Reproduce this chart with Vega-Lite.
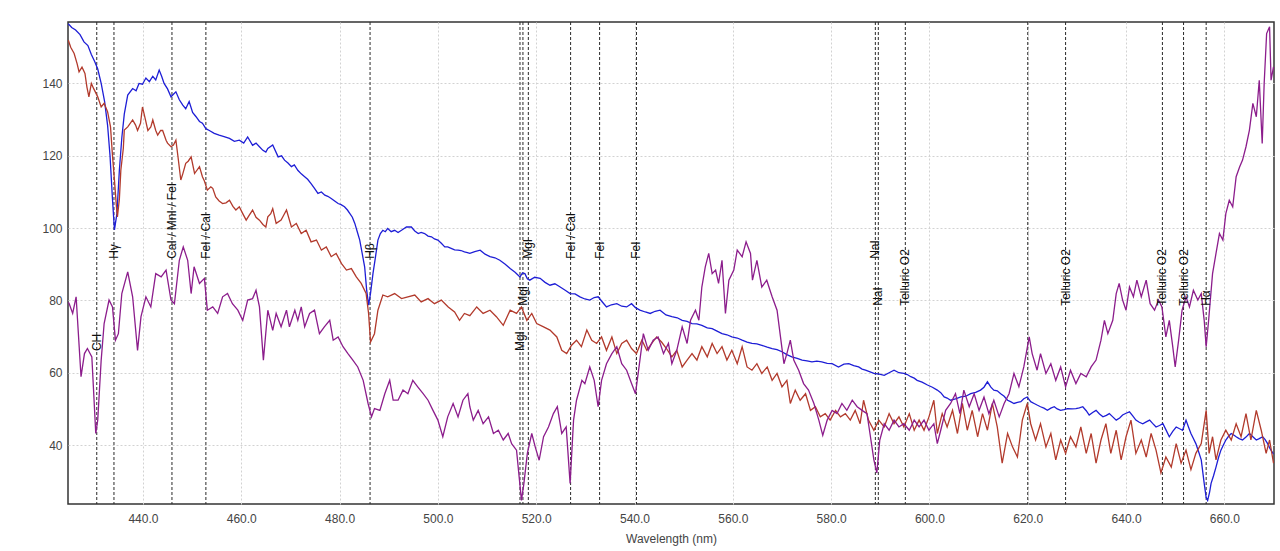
{
"$schema": "https://vega.github.io/schema/vega-lite/v6.json",
"width": 1206, "height": 482,
"autosize": {"type": "none"},
"padding": {"left": 68, "top": 22, "right": 6, "bottom": 47},
"background": "white",
"config": {"view": {"stroke": "#333333", "strokeWidth": 1.5}, "font": "Liberation Sans"},
"datasets": {
"lines": [
{"label": "CH", "nm": 430.6, "ly": 66},
{"label": "Hγ", "nm": 434.1, "ly": 91.5},
{"label": "CaI / MnI / FeI", "nm": 445.9, "ly": 91.5},
{"label": "FeI / CaI", "nm": 452.8, "ly": 91.5},
{"label": "Hβ", "nm": 486.2, "ly": 91.5},
{"label": "MgI", "nm": 516.7, "ly": 66},
{"label": "MgI", "nm": 517.3, "ly": 78.5},
{"label": "MgI", "nm": 518.4, "ly": 91.5},
{"label": "FeI / CaI", "nm": 527.0, "ly": 91.5},
{"label": "FeI", "nm": 532.9, "ly": 91.5},
{"label": "FeI", "nm": 540.4, "ly": 91.5},
{"label": "NaI", "nm": 589.0, "ly": 91.5},
{"label": "NaI", "nm": 589.6, "ly": 78.5},
{"label": "Telluric O2", "nm": 595.1, "ly": 78.5},
{"label": "", "nm": 620.0, "ly": 78.5},
{"label": "Telluric O2", "nm": 627.7, "ly": 78.5},
{"label": "Telluric O2", "nm": 647.4, "ly": 78.5},
{"label": "Telluric O2", "nm": 651.7, "ly": 78.5},
{"label": "Hα", "nm": 656.3, "ly": 78.5}
],
"spec": [
{"s":"B","nm":424.8,"f":156.5},{"s":"B","nm":425.5,"f":155.5},{"s":"B","nm":426.3,"f":154.8},{"s":"B","nm":427.2,"f":153.5},{"s":"B","nm":428.0,"f":151.5},{"s":"B","nm":428.8,"f":150.5},{"s":"B","nm":429.5,"f":148.0},{"s":"B","nm":430.2,"f":146.0},{"s":"B","nm":430.8,"f":144.0},{"s":"B","nm":431.5,"f":140.0},{"s":"B","nm":432.2,"f":135.0},{"s":"B","nm":432.8,"f":128.5},{"s":"B","nm":433.3,"f":120.0},{"s":"B","nm":433.8,"f":108.0},{"s":"B","nm":434.2,"f":99.5},{"s":"B","nm":434.7,"f":104.0},{"s":"B","nm":435.2,"f":116.0},{"s":"B","nm":435.7,"f":125.0},{"s":"B","nm":436.2,"f":131.5},{"s":"B","nm":436.9,"f":136.8},{"s":"B","nm":437.9,"f":138.6},{"s":"B","nm":438.6,"f":138.0},{"s":"B","nm":439.2,"f":140.0},{"s":"B","nm":439.9,"f":139.8},{"s":"B","nm":440.6,"f":141.5},{"s":"B","nm":441.3,"f":140.5},{"s":"B","nm":442.0,"f":142.0},{"s":"B","nm":442.6,"f":141.0},{"s":"B","nm":443.3,"f":143.7},{"s":"B","nm":443.8,"f":142.0},{"s":"B","nm":444.3,"f":140.0},{"s":"B","nm":445.0,"f":138.5},{"s":"B","nm":445.7,"f":136.3},{"s":"B","nm":446.2,"f":137.0},{"s":"B","nm":446.7,"f":137.7},{"s":"B","nm":447.4,"f":135.5},{"s":"B","nm":448.1,"f":134.0},{"s":"B","nm":448.7,"f":133.0},{"s":"B","nm":449.4,"f":135.0},{"s":"B","nm":450.1,"f":132.0},{"s":"B","nm":450.8,"f":130.8},{"s":"B","nm":451.5,"f":129.5},{"s":"B","nm":452.1,"f":129.0},{"s":"B","nm":452.8,"f":127.5},{"s":"B","nm":453.5,"f":127.0},{"s":"B","nm":454.5,"f":126.2},{"s":"B","nm":455.5,"f":125.7},{"s":"B","nm":456.5,"f":125.3},{"s":"B","nm":457.6,"f":124.8},{"s":"B","nm":458.6,"f":124.0},{"s":"B","nm":459.6,"f":124.3},{"s":"B","nm":460.5,"f":123.5},{"s":"B","nm":461.3,"f":125.2},{"s":"B","nm":462.3,"f":122.9},{"s":"B","nm":463.0,"f":123.5},{"s":"B","nm":463.7,"f":122.5},{"s":"B","nm":464.4,"f":121.5},{"s":"B","nm":465.0,"f":121.0},{"s":"B","nm":465.4,"f":122.0},{"s":"B","nm":466.4,"f":123.0},{"s":"B","nm":467.5,"f":119.7},{"s":"B","nm":468.2,"f":120.0},{"s":"B","nm":468.8,"f":118.8},{"s":"B","nm":469.5,"f":118.0},{"s":"B","nm":470.2,"f":117.0},{"s":"B","nm":470.8,"f":117.5},{"s":"B","nm":471.5,"f":116.0},{"s":"B","nm":472.2,"f":115.0},{"s":"B","nm":472.9,"f":114.2},{"s":"B","nm":473.5,"f":113.5},{"s":"B","nm":474.2,"f":112.3},{"s":"B","nm":474.9,"f":111.0},{"s":"B","nm":475.6,"f":109.6},{"s":"B","nm":476.3,"f":110.0},{"s":"B","nm":477.0,"f":109.1},{"s":"B","nm":477.6,"f":108.8},{"s":"B","nm":478.3,"f":108.2},{"s":"B","nm":479.0,"f":107.5},{"s":"B","nm":479.7,"f":106.8},{"s":"B","nm":480.3,"f":106.5},{"s":"B","nm":481.0,"f":105.9},{"s":"B","nm":481.6,"f":105.0},{"s":"B","nm":482.1,"f":104.0},{"s":"B","nm":482.6,"f":103.0},{"s":"B","nm":483.1,"f":101.3},{"s":"B","nm":483.6,"f":99.0},{"s":"B","nm":484.1,"f":96.7},{"s":"B","nm":484.6,"f":93.0},{"s":"B","nm":485.1,"f":89.3},{"s":"B","nm":485.5,"f":83.0},{"s":"B","nm":485.9,"f":78.7},{"s":"B","nm":486.3,"f":82.0},{"s":"B","nm":486.8,"f":87.5},{"s":"B","nm":487.3,"f":92.0},{"s":"B","nm":487.8,"f":96.7},{"s":"B","nm":488.3,"f":98.5},{"s":"B","nm":488.8,"f":99.4},{"s":"B","nm":489.3,"f":99.0},{"s":"B","nm":489.8,"f":99.9},{"s":"B","nm":490.5,"f":99.0},{"s":"B","nm":491.2,"f":99.4},{"s":"B","nm":491.9,"f":98.8},{"s":"B","nm":492.6,"f":99.4},{"s":"B","nm":493.6,"f":100.3},{"s":"B","nm":494.6,"f":100.3},{"s":"B","nm":495.3,"f":99.2},{"s":"B","nm":496.0,"f":98.5},{"s":"B","nm":496.6,"f":98.8},{"s":"B","nm":497.3,"f":98.5},{"s":"B","nm":498.0,"f":97.8},{"s":"B","nm":498.7,"f":97.6},{"s":"B","nm":499.3,"f":97.0},{"s":"B","nm":500.0,"f":96.7},{"s":"B","nm":500.7,"f":95.8},{"s":"B","nm":501.4,"f":94.8},{"s":"B","nm":502.0,"f":94.8},{"s":"B","nm":502.7,"f":94.4},{"s":"B","nm":503.4,"f":94.0},{"s":"B","nm":504.1,"f":93.9},{"s":"B","nm":504.7,"f":93.8},{"s":"B","nm":505.4,"f":93.4},{"s":"B","nm":506.0,"f":93.2},{"s":"B","nm":506.5,"f":93.0},{"s":"B","nm":507.5,"f":93.5},{"s":"B","nm":508.6,"f":93.9},{"s":"B","nm":509.6,"f":92.8},{"s":"B","nm":510.6,"f":92.1},{"s":"B","nm":511.6,"f":91.8},{"s":"B","nm":512.6,"f":91.1},{"s":"B","nm":513.7,"f":90.0},{"s":"B","nm":514.7,"f":88.8},{"s":"B","nm":515.7,"f":87.8},{"s":"B","nm":516.7,"f":86.5},{"s":"B","nm":517.2,"f":87.6},{"s":"B","nm":517.7,"f":87.4},{"s":"B","nm":518.2,"f":86.0},{"s":"B","nm":518.7,"f":85.6},{"s":"B","nm":519.7,"f":86.4},{"s":"B","nm":520.8,"f":86.1},{"s":"B","nm":521.8,"f":85.0},{"s":"B","nm":522.8,"f":84.2},{"s":"B","nm":523.8,"f":84.6},{"s":"B","nm":524.8,"f":83.8},{"s":"B","nm":525.9,"f":82.8},{"s":"B","nm":526.9,"f":81.9},{"s":"B","nm":527.9,"f":81.8},{"s":"B","nm":528.9,"f":81.0},{"s":"B","nm":529.9,"f":80.4},{"s":"B","nm":530.9,"f":80.1},{"s":"B","nm":531.8,"f":80.8},{"s":"B","nm":532.6,"f":81.0},{"s":"B","nm":533.5,"f":79.5},{"s":"B","nm":534.3,"f":78.2},{"s":"B","nm":535.3,"f":78.8},{"s":"B","nm":536.4,"f":79.1},{"s":"B","nm":537.4,"f":78.4},{"s":"B","nm":538.4,"f":78.2},{"s":"B","nm":539.4,"f":79.1},{"s":"B","nm":540.2,"f":78.0},{"s":"B","nm":541.1,"f":77.3},{"s":"B","nm":542.2,"f":76.8},{"s":"B","nm":543.2,"f":76.4},{"s":"B","nm":544.2,"f":77.0},{"s":"B","nm":545.2,"f":77.3},{"s":"B","nm":546.4,"f":76.0},{"s":"B","nm":547.6,"f":75.5},{"s":"B","nm":548.7,"f":75.2},{"s":"B","nm":549.7,"f":74.5},{"s":"B","nm":550.7,"f":74.2},{"s":"B","nm":551.7,"f":73.6},{"s":"B","nm":552.7,"f":73.5},{"s":"B","nm":553.7,"f":73.1},{"s":"B","nm":554.8,"f":72.4},{"s":"B","nm":555.8,"f":72.2},{"s":"B","nm":556.8,"f":71.5},{"s":"B","nm":557.8,"f":70.8},{"s":"B","nm":558.8,"f":70.5},{"s":"B","nm":559.8,"f":69.9},{"s":"B","nm":560.9,"f":69.6},{"s":"B","nm":561.9,"f":69.0},{"s":"B","nm":562.9,"f":68.5},{"s":"B","nm":563.9,"f":68.1},{"s":"B","nm":564.9,"f":68.0},{"s":"B","nm":565.9,"f":67.6},{"s":"B","nm":567.0,"f":67.1},{"s":"B","nm":568.0,"f":66.7},{"s":"B","nm":569.0,"f":66.4},{"s":"B","nm":570.0,"f":65.8},{"s":"B","nm":571.0,"f":65.0},{"s":"B","nm":572.0,"f":64.4},{"s":"B","nm":573.1,"f":64.0},{"s":"B","nm":574.1,"f":63.5},{"s":"B","nm":575.1,"f":63.3},{"s":"B","nm":576.1,"f":63.0},{"s":"B","nm":577.1,"f":63.2},{"s":"B","nm":578.1,"f":63.0},{"s":"B","nm":579.2,"f":62.6},{"s":"B","nm":580.2,"f":62.5},{"s":"B","nm":581.5,"f":61.6},{"s":"B","nm":582.6,"f":62.4},{"s":"B","nm":583.6,"f":62.5},{"s":"B","nm":584.6,"f":62.0},{"s":"B","nm":585.6,"f":61.6},{"s":"B","nm":586.3,"f":61.0},{"s":"B","nm":587.0,"f":60.7},{"s":"B","nm":587.8,"f":60.3},{"s":"B","nm":588.7,"f":59.8},{"s":"B","nm":589.8,"f":59.6},{"s":"B","nm":590.8,"f":59.3},{"s":"B","nm":591.8,"f":60.0},{"s":"B","nm":592.8,"f":60.7},{"s":"B","nm":593.8,"f":60.0},{"s":"B","nm":594.8,"f":59.8},{"s":"B","nm":595.5,"f":59.5},{"s":"B","nm":596.2,"f":58.9},{"s":"B","nm":596.9,"f":58.5},{"s":"B","nm":597.5,"f":57.9},{"s":"B","nm":598.5,"f":57.4},{"s":"B","nm":599.6,"f":56.6},{"s":"B","nm":600.6,"f":56.0},{"s":"B","nm":601.6,"f":55.2},{"s":"B","nm":602.3,"f":54.5},{"s":"B","nm":603.0,"f":53.3},{"s":"B","nm":603.6,"f":53.0},{"s":"B","nm":604.3,"f":52.4},{"s":"B","nm":605.3,"f":52.8},{"s":"B","nm":606.4,"f":53.3},{"s":"B","nm":607.4,"f":53.5},{"s":"B","nm":608.4,"f":54.2},{"s":"B","nm":609.4,"f":54.6},{"s":"B","nm":610.4,"f":55.2},{"s":"B","nm":611.1,"f":56.0},{"s":"B","nm":611.8,"f":57.5},{"s":"B","nm":612.5,"f":56.0},{"s":"B","nm":613.1,"f":55.2},{"s":"B","nm":613.8,"f":55.0},{"s":"B","nm":614.5,"f":54.2},{"s":"B","nm":615.2,"f":53.5},{"s":"B","nm":615.9,"f":52.4},{"s":"B","nm":616.5,"f":52.0},{"s":"B","nm":617.2,"f":51.5},{"s":"B","nm":617.9,"f":51.8},{"s":"B","nm":618.6,"f":52.0},{"s":"B","nm":619.2,"f":52.8},{"s":"B","nm":619.9,"f":53.3},{"s":"B","nm":620.6,"f":52.0},{"s":"B","nm":621.3,"f":51.5},{"s":"B","nm":622.0,"f":51.0},{"s":"B","nm":622.6,"f":50.6},{"s":"B","nm":623.3,"f":50.2},{"s":"B","nm":624.0,"f":49.6},{"s":"B","nm":624.7,"f":50.2},{"s":"B","nm":625.4,"f":50.6},{"s":"B","nm":626.0,"f":50.0},{"s":"B","nm":626.7,"f":49.6},{"s":"B","nm":627.4,"f":49.8},{"s":"B","nm":628.1,"f":50.1},{"s":"B","nm":629.0,"f":50.0},{"s":"B","nm":629.8,"f":50.1},{"s":"B","nm":630.5,"f":50.3},{"s":"B","nm":631.2,"f":50.6},{"s":"B","nm":631.9,"f":49.5},{"s":"B","nm":632.5,"f":48.3},{"s":"B","nm":633.2,"f":49.0},{"s":"B","nm":633.9,"f":49.6},{"s":"B","nm":634.6,"f":48.6},{"s":"B","nm":635.3,"f":47.8},{"s":"B","nm":636.0,"f":48.2},{"s":"B","nm":636.6,"f":48.7},{"s":"B","nm":637.3,"f":47.8},{"s":"B","nm":638.0,"f":46.9},{"s":"B","nm":638.7,"f":47.5},{"s":"B","nm":639.3,"f":48.3},{"s":"B","nm":640.0,"f":48.8},{"s":"B","nm":640.7,"f":49.2},{"s":"B","nm":641.4,"f":48.0},{"s":"B","nm":642.0,"f":46.9},{"s":"B","nm":642.7,"f":46.3},{"s":"B","nm":643.4,"f":45.9},{"s":"B","nm":644.1,"f":46.4},{"s":"B","nm":644.8,"f":46.9},{"s":"B","nm":645.4,"f":46.0},{"s":"B","nm":646.1,"f":45.0},{"s":"B","nm":646.8,"f":45.4},{"s":"B","nm":647.5,"f":45.9},{"s":"B","nm":648.2,"f":44.0},{"s":"B","nm":648.8,"f":42.3},{"s":"B","nm":649.5,"f":43.8},{"s":"B","nm":650.2,"f":45.0},{"s":"B","nm":650.9,"f":44.5},{"s":"B","nm":651.5,"f":44.1},{"s":"B","nm":652.2,"f":46.9},{"s":"B","nm":652.7,"f":45.0},{"s":"B","nm":653.2,"f":43.2},{"s":"B","nm":653.7,"f":41.8},{"s":"B","nm":654.2,"f":40.4},{"s":"B","nm":654.8,"f":38.0},{"s":"B","nm":655.3,"f":35.9},{"s":"B","nm":655.9,"f":29.4},{"s":"B","nm":656.3,"f":25.5},{"s":"B","nm":656.6,"f":24.7},{"s":"B","nm":657.0,"f":27.0},{"s":"B","nm":657.3,"f":29.4},{"s":"B","nm":657.8,"f":31.5},{"s":"B","nm":658.3,"f":33.9},{"s":"B","nm":658.8,"f":36.5},{"s":"B","nm":659.3,"f":38.6},{"s":"B","nm":659.8,"f":40.0},{"s":"B","nm":660.3,"f":41.4},{"s":"B","nm":660.9,"f":42.5},{"s":"B","nm":661.4,"f":43.2},{"s":"B","nm":661.9,"f":42.8},{"s":"B","nm":662.4,"f":42.3},{"s":"B","nm":663.0,"f":41.8},{"s":"B","nm":663.7,"f":41.4},{"s":"B","nm":664.4,"f":42.2},{"s":"B","nm":665.1,"f":43.2},{"s":"B","nm":665.8,"f":42.3},{"s":"B","nm":666.5,"f":41.4},{"s":"B","nm":667.1,"f":41.8},{"s":"B","nm":667.8,"f":42.3},{"s":"B","nm":668.3,"f":41.5},{"s":"B","nm":668.8,"f":40.4},{"s":"B","nm":669.3,"f":39.0},{"s":"B","nm":670.0,"f":37.5},
{"s":"R","nm":424.8,"f":152.0},{"s":"R","nm":425.3,"f":150.0},{"s":"R","nm":426.0,"f":148.3},{"s":"R","nm":426.6,"f":145.5},{"s":"R","nm":427.0,"f":143.2},{"s":"R","nm":427.6,"f":144.5},{"s":"R","nm":428.2,"f":142.8},{"s":"R","nm":428.6,"f":139.0},{"s":"R","nm":429.0,"f":136.3},{"s":"R","nm":429.5,"f":140.0},{"s":"R","nm":430.0,"f":138.5},{"s":"R","nm":430.8,"f":136.3},{"s":"R","nm":431.5,"f":133.5},{"s":"R","nm":432.1,"f":134.5},{"s":"R","nm":432.8,"f":132.2},{"s":"R","nm":433.4,"f":128.0},{"s":"R","nm":433.8,"f":120.0},{"s":"R","nm":434.2,"f":113.3},{"s":"R","nm":434.6,"f":106.0},{"s":"R","nm":434.8,"f":103.1},{"s":"R","nm":435.2,"f":108.0},{"s":"R","nm":435.5,"f":116.0},{"s":"R","nm":436.0,"f":122.0},{"s":"R","nm":436.2,"f":127.1},{"s":"R","nm":436.9,"f":128.0},{"s":"R","nm":437.9,"f":129.9},{"s":"R","nm":438.5,"f":128.5},{"s":"R","nm":438.9,"f":127.0},{"s":"R","nm":439.5,"f":129.0},{"s":"R","nm":439.9,"f":133.5},{"s":"R","nm":440.5,"f":130.0},{"s":"R","nm":441.0,"f":127.0},{"s":"R","nm":441.6,"f":128.0},{"s":"R","nm":442.0,"f":129.9},{"s":"R","nm":442.6,"f":127.0},{"s":"R","nm":443.0,"f":125.7},{"s":"R","nm":443.6,"f":127.0},{"s":"R","nm":444.0,"f":127.0},{"s":"R","nm":444.7,"f":124.3},{"s":"R","nm":445.0,"f":123.5},{"s":"R","nm":445.7,"f":122.5},{"s":"R","nm":446.2,"f":123.0},{"s":"R","nm":446.7,"f":124.3},{"s":"R","nm":447.1,"f":120.0},{"s":"R","nm":447.7,"f":113.3},{"s":"R","nm":448.1,"f":115.0},{"s":"R","nm":448.7,"f":117.9},{"s":"R","nm":449.2,"f":118.5},{"s":"R","nm":449.8,"f":119.7},{"s":"R","nm":450.5,"f":115.1},{"s":"R","nm":451.5,"f":117.0},{"s":"R","nm":452.1,"f":114.2},{"s":"R","nm":452.5,"f":113.0},{"s":"R","nm":453.1,"f":110.5},{"s":"R","nm":453.8,"f":111.4},{"s":"R","nm":454.2,"f":111.0},{"s":"R","nm":454.8,"f":108.6},{"s":"R","nm":455.5,"f":107.5},{"s":"R","nm":456.2,"f":106.8},{"s":"R","nm":456.9,"f":107.0},{"s":"R","nm":457.6,"f":107.7},{"s":"R","nm":458.3,"f":106.0},{"s":"R","nm":458.9,"f":105.0},{"s":"R","nm":459.6,"f":105.9},{"s":"R","nm":460.3,"f":104.0},{"s":"R","nm":461.0,"f":102.2},{"s":"R","nm":461.6,"f":103.5},{"s":"R","nm":462.3,"f":105.0},{"s":"R","nm":463.0,"f":103.0},{"s":"R","nm":463.7,"f":102.2},{"s":"R","nm":464.4,"f":101.0},{"s":"R","nm":465.0,"f":100.3},{"s":"R","nm":465.4,"f":103.1},{"s":"R","nm":466.0,"f":104.0},{"s":"R","nm":466.4,"f":105.4},{"s":"R","nm":467.1,"f":101.3},{"s":"R","nm":468.1,"f":102.2},{"s":"R","nm":468.6,"f":103.5},{"s":"R","nm":469.2,"f":105.0},{"s":"R","nm":470.2,"f":100.3},{"s":"R","nm":471.2,"f":101.3},{"s":"R","nm":472.2,"f":98.5},{"s":"R","nm":473.2,"f":99.4},{"s":"R","nm":474.2,"f":96.2},{"s":"R","nm":475.3,"f":96.7},{"s":"R","nm":476.3,"f":93.9},{"s":"R","nm":477.3,"f":94.8},{"s":"R","nm":478.3,"f":92.1},{"s":"R","nm":479.3,"f":93.0},{"s":"R","nm":480.4,"f":90.2},{"s":"R","nm":481.4,"f":88.4},{"s":"R","nm":482.4,"f":88.8},{"s":"R","nm":483.4,"f":86.5},{"s":"R","nm":484.4,"f":84.7},{"s":"R","nm":485.4,"f":81.9},{"s":"R","nm":485.9,"f":76.4},{"s":"R","nm":486.3,"f":68.5},{"s":"R","nm":487.1,"f":70.8},{"s":"R","nm":487.8,"f":77.3},{"s":"R","nm":488.8,"f":81.5},{"s":"R","nm":489.8,"f":81.0},{"s":"R","nm":491.2,"f":81.9},{"s":"R","nm":492.6,"f":80.5},{"s":"R","nm":493.9,"f":81.0},{"s":"R","nm":495.3,"f":81.5},{"s":"R","nm":496.6,"f":79.6},{"s":"R","nm":498.0,"f":80.5},{"s":"R","nm":499.3,"f":79.1},{"s":"R","nm":500.7,"f":80.1},{"s":"R","nm":502.1,"f":78.2},{"s":"R","nm":503.4,"f":76.8},{"s":"R","nm":504.4,"f":74.5},{"s":"R","nm":505.4,"f":76.4},{"s":"R","nm":506.5,"f":75.8},{"s":"R","nm":507.9,"f":78.2},{"s":"R","nm":509.2,"f":76.4},{"s":"R","nm":510.6,"f":77.3},{"s":"R","nm":511.9,"f":75.5},{"s":"R","nm":513.3,"f":73.1},{"s":"R","nm":514.7,"f":77.3},{"s":"R","nm":516.0,"f":76.4},{"s":"R","nm":517.0,"f":78.2},{"s":"R","nm":518.1,"f":74.5},{"s":"R","nm":519.1,"f":76.4},{"s":"R","nm":520.1,"f":73.6},{"s":"R","nm":521.5,"f":72.7},{"s":"R","nm":522.8,"f":71.8},{"s":"R","nm":524.2,"f":69.9},{"s":"R","nm":525.2,"f":66.2},{"s":"R","nm":526.2,"f":65.3},{"s":"R","nm":527.2,"f":67.6},{"s":"R","nm":528.2,"f":69.0},{"s":"R","nm":529.2,"f":67.2},{"s":"R","nm":530.3,"f":71.8},{"s":"R","nm":531.3,"f":69.0},{"s":"R","nm":532.3,"f":68.1},{"s":"R","nm":533.3,"f":69.9},{"s":"R","nm":534.3,"f":66.2},{"s":"R","nm":535.4,"f":69.9},{"s":"R","nm":536.4,"f":65.3},{"s":"R","nm":537.4,"f":68.1},{"s":"R","nm":538.4,"f":69.0},{"s":"R","nm":539.4,"f":66.7},{"s":"R","nm":540.4,"f":65.3},{"s":"R","nm":541.5,"f":69.0},{"s":"R","nm":542.5,"f":66.2},{"s":"R","nm":543.5,"f":68.1},{"s":"R","nm":544.5,"f":69.9},{"s":"R","nm":545.5,"f":68.5},{"s":"R","nm":546.5,"f":66.7},{"s":"R","nm":547.6,"f":64.4},{"s":"R","nm":548.6,"f":66.2},{"s":"R","nm":549.7,"f":61.6},{"s":"R","nm":550.7,"f":63.5},{"s":"R","nm":551.7,"f":65.3},{"s":"R","nm":552.7,"f":63.5},{"s":"R","nm":553.7,"f":67.2},{"s":"R","nm":554.8,"f":64.4},{"s":"R","nm":555.8,"f":68.1},{"s":"R","nm":556.8,"f":65.3},{"s":"R","nm":557.8,"f":67.2},{"s":"R","nm":558.8,"f":63.5},{"s":"R","nm":559.8,"f":66.2},{"s":"R","nm":560.9,"f":62.5},{"s":"R","nm":561.9,"f":67.2},{"s":"R","nm":562.9,"f":61.6},{"s":"R","nm":563.9,"f":60.7},{"s":"R","nm":564.9,"f":62.5},{"s":"R","nm":565.9,"f":59.8},{"s":"R","nm":567.0,"f":61.6},{"s":"R","nm":568.0,"f":57.9},{"s":"R","nm":569.0,"f":59.8},{"s":"R","nm":570.0,"f":56.1},{"s":"R","nm":571.0,"f":57.9},{"s":"R","nm":571.7,"f":51.5},{"s":"R","nm":572.7,"f":55.2},{"s":"R","nm":573.7,"f":52.4},{"s":"R","nm":574.8,"f":54.2},{"s":"R","nm":575.8,"f":49.6},{"s":"R","nm":576.8,"f":50.6},{"s":"R","nm":577.8,"f":47.8},{"s":"R","nm":578.8,"f":48.7},{"s":"R","nm":579.8,"f":46.9},{"s":"R","nm":580.9,"f":49.6},{"s":"R","nm":581.9,"f":47.8},{"s":"R","nm":582.9,"f":48.7},{"s":"R","nm":583.9,"f":46.9},{"s":"R","nm":584.9,"f":49.6},{"s":"R","nm":585.9,"f":45.9},{"s":"R","nm":586.6,"f":52.4},{"s":"R","nm":587.6,"f":46.9},{"s":"R","nm":588.7,"f":44.1},{"s":"R","nm":589.7,"f":46.9},{"s":"R","nm":590.8,"f":45.0},{"s":"R","nm":591.8,"f":48.7},{"s":"R","nm":592.8,"f":45.9},{"s":"R","nm":593.8,"f":47.8},{"s":"R","nm":594.8,"f":45.0},{"s":"R","nm":595.9,"f":48.7},{"s":"R","nm":596.9,"f":44.1},{"s":"R","nm":597.9,"f":46.9},{"s":"R","nm":598.9,"f":44.1},{"s":"R","nm":599.9,"f":47.8},{"s":"R","nm":600.9,"f":52.4},{"s":"R","nm":601.6,"f":43.2},{"s":"R","nm":602.6,"f":48.7},{"s":"R","nm":603.6,"f":45.0},{"s":"R","nm":604.7,"f":49.6},{"s":"R","nm":605.7,"f":43.2},{"s":"R","nm":606.7,"f":51.5},{"s":"R","nm":607.7,"f":44.1},{"s":"R","nm":608.7,"f":49.6},{"s":"R","nm":609.8,"f":42.3},{"s":"R","nm":610.8,"f":48.7},{"s":"R","nm":611.8,"f":44.1},{"s":"R","nm":612.8,"f":51.5},{"s":"R","nm":613.8,"f":45.0},{"s":"R","nm":614.8,"f":35.0},{"s":"R","nm":615.9,"f":43.2},{"s":"R","nm":616.9,"f":39.5},{"s":"R","nm":617.9,"f":36.7},{"s":"R","nm":618.9,"f":46.9},{"s":"R","nm":619.9,"f":51.5},{"s":"R","nm":620.6,"f":45.9},{"s":"R","nm":621.6,"f":41.4},{"s":"R","nm":622.6,"f":45.9},{"s":"R","nm":623.7,"f":39.5},{"s":"R","nm":624.7,"f":43.2},{"s":"R","nm":625.7,"f":35.9},{"s":"R","nm":626.7,"f":41.4},{"s":"R","nm":627.7,"f":37.7},{"s":"R","nm":628.7,"f":42.3},{"s":"R","nm":629.8,"f":39.5},{"s":"R","nm":630.8,"f":45.0},{"s":"R","nm":631.9,"f":37.7},{"s":"R","nm":632.9,"f":43.2},{"s":"R","nm":633.9,"f":35.0},{"s":"R","nm":634.9,"f":41.4},{"s":"R","nm":635.9,"f":45.9},{"s":"R","nm":636.9,"f":37.7},{"s":"R","nm":638.0,"f":44.1},{"s":"R","nm":639.0,"f":35.9},{"s":"R","nm":640.0,"f":42.3},{"s":"R","nm":641.0,"f":46.9},{"s":"R","nm":642.0,"f":37.7},{"s":"R","nm":643.1,"f":41.4},{"s":"R","nm":644.1,"f":36.7},{"s":"R","nm":645.1,"f":43.2},{"s":"R","nm":646.1,"f":38.6},{"s":"R","nm":647.1,"f":32.3},{"s":"R","nm":648.1,"f":36.7},{"s":"R","nm":649.2,"f":33.9},{"s":"R","nm":650.2,"f":40.4},{"s":"R","nm":651.2,"f":35.0},{"s":"R","nm":652.2,"f":38.6},{"s":"R","nm":653.2,"f":33.2},{"s":"R","nm":654.2,"f":37.7},{"s":"R","nm":655.3,"f":40.4},{"s":"R","nm":656.3,"f":49.6},{"s":"R","nm":656.9,"f":37.7},{"s":"R","nm":657.6,"f":42.3},{"s":"R","nm":658.3,"f":35.9},{"s":"R","nm":659.3,"f":41.4},{"s":"R","nm":660.3,"f":44.1},{"s":"R","nm":661.4,"f":41.4},{"s":"R","nm":662.4,"f":45.9},{"s":"R","nm":663.4,"f":42.3},{"s":"R","nm":664.4,"f":48.7},{"s":"R","nm":665.4,"f":41.4},{"s":"R","nm":666.5,"f":49.6},{"s":"R","nm":667.5,"f":44.1},{"s":"R","nm":668.5,"f":37.7},{"s":"R","nm":669.2,"f":41.4},{"s":"R","nm":670.0,"f":35.0},
{"s":"P","nm":424.8,"f":79.5},{"s":"P","nm":425.0,"f":79.1},{"s":"P","nm":425.7,"f":76.4},{"s":"P","nm":426.4,"f":81.0},{"s":"P","nm":427.4,"f":58.9},{"s":"P","nm":428.1,"f":65.3},{"s":"P","nm":428.7,"f":66.7},{"s":"P","nm":429.6,"f":64.4},{"s":"P","nm":430.4,"f":43.2},{"s":"P","nm":430.8,"f":46.9},{"s":"P","nm":431.5,"f":63.5},{"s":"P","nm":432.1,"f":73.6},{"s":"P","nm":433.1,"f":80.1},{"s":"P","nm":433.8,"f":78.2},{"s":"P","nm":434.4,"f":69.0},{"s":"P","nm":435.0,"f":70.8},{"s":"P","nm":435.7,"f":81.9},{"s":"P","nm":436.9,"f":87.9},{"s":"P","nm":437.9,"f":81.0},{"s":"P","nm":438.9,"f":66.2},{"s":"P","nm":439.6,"f":75.5},{"s":"P","nm":440.6,"f":81.0},{"s":"P","nm":441.6,"f":78.2},{"s":"P","nm":442.6,"f":87.4},{"s":"P","nm":443.7,"f":86.5},{"s":"P","nm":444.7,"f":88.4},{"s":"P","nm":445.7,"f":80.1},{"s":"P","nm":446.4,"f":79.1},{"s":"P","nm":447.4,"f":91.1},{"s":"P","nm":448.2,"f":94.8},{"s":"P","nm":449.1,"f":91.1},{"s":"P","nm":449.8,"f":81.9},{"s":"P","nm":450.4,"f":89.3},{"s":"P","nm":451.5,"f":84.7},{"s":"P","nm":452.5,"f":86.1},{"s":"P","nm":453.1,"f":77.3},{"s":"P","nm":454.2,"f":78.2},{"s":"P","nm":455.2,"f":76.4},{"s":"P","nm":456.2,"f":81.0},{"s":"P","nm":457.2,"f":81.9},{"s":"P","nm":458.2,"f":79.1},{"s":"P","nm":459.3,"f":77.3},{"s":"P","nm":460.3,"f":74.5},{"s":"P","nm":461.3,"f":80.1},{"s":"P","nm":462.3,"f":80.5},{"s":"P","nm":463.0,"f":82.8},{"s":"P","nm":463.7,"f":78.2},{"s":"P","nm":464.5,"f":63.5},{"s":"P","nm":465.4,"f":77.3},{"s":"P","nm":466.4,"f":71.7},{"s":"P","nm":467.1,"f":76.4},{"s":"P","nm":468.1,"f":72.7},{"s":"P","nm":469.2,"f":77.3},{"s":"P","nm":469.8,"f":72.7},{"s":"P","nm":470.9,"f":77.3},{"s":"P","nm":471.5,"f":74.5},{"s":"P","nm":472.2,"f":78.2},{"s":"P","nm":472.9,"f":72.7},{"s":"P","nm":473.9,"f":76.4},{"s":"P","nm":474.9,"f":77.3},{"s":"P","nm":475.9,"f":70.8},{"s":"P","nm":476.9,"f":72.7},{"s":"P","nm":478.0,"f":74.5},{"s":"P","nm":478.7,"f":69.0},{"s":"P","nm":479.7,"f":69.9},{"s":"P","nm":480.7,"f":67.2},{"s":"P","nm":481.7,"f":65.3},{"s":"P","nm":482.7,"f":63.5},{"s":"P","nm":483.7,"f":61.6},{"s":"P","nm":484.8,"f":57.9},{"s":"P","nm":485.8,"f":51.5},{"s":"P","nm":486.5,"f":47.8},{"s":"P","nm":487.1,"f":50.1},{"s":"P","nm":488.2,"f":49.6},{"s":"P","nm":489.2,"f":54.2},{"s":"P","nm":490.2,"f":57.9},{"s":"P","nm":490.9,"f":52.4},{"s":"P","nm":491.9,"f":52.4},{"s":"P","nm":492.9,"f":55.2},{"s":"P","nm":493.9,"f":54.2},{"s":"P","nm":494.9,"f":57.9},{"s":"P","nm":495.9,"f":56.1},{"s":"P","nm":497.0,"f":54.2},{"s":"P","nm":498.0,"f":52.4},{"s":"P","nm":499.0,"f":49.6},{"s":"P","nm":500.0,"f":46.9},{"s":"P","nm":501.0,"f":42.3},{"s":"P","nm":502.0,"f":47.8},{"s":"P","nm":503.1,"f":51.5},{"s":"P","nm":504.1,"f":47.8},{"s":"P","nm":505.1,"f":52.4},{"s":"P","nm":506.1,"f":54.2},{"s":"P","nm":506.5,"f":50.6},{"s":"P","nm":507.2,"f":46.9},{"s":"P","nm":508.2,"f":49.6},{"s":"P","nm":509.2,"f":45.9},{"s":"P","nm":510.3,"f":47.8},{"s":"P","nm":511.3,"f":43.2},{"s":"P","nm":512.3,"f":44.1},{"s":"P","nm":513.3,"f":41.4},{"s":"P","nm":514.3,"f":43.2},{"s":"P","nm":515.0,"f":40.4},{"s":"P","nm":516.0,"f":38.6},{"s":"P","nm":516.6,"f":30.3},{"s":"P","nm":517.0,"f":24.7},{"s":"P","nm":517.5,"f":29.4},{"s":"P","nm":518.2,"f":37.7},{"s":"P","nm":519.1,"f":43.2},{"s":"P","nm":519.8,"f":39.5},{"s":"P","nm":520.6,"f":35.8},{"s":"P","nm":521.5,"f":42.3},{"s":"P","nm":522.5,"f":45.0},{"s":"P","nm":523.5,"f":48.7},{"s":"P","nm":524.3,"f":50.6},{"s":"P","nm":525.2,"f":43.2},{"s":"P","nm":526.1,"f":45.0},{"s":"P","nm":526.9,"f":29.4},{"s":"P","nm":527.6,"f":46.9},{"s":"P","nm":528.2,"f":52.4},{"s":"P","nm":529.3,"f":57.9},{"s":"P","nm":529.9,"f":57.0},{"s":"P","nm":530.9,"f":61.6},{"s":"P","nm":531.8,"f":57.9},{"s":"P","nm":532.6,"f":50.6},{"s":"P","nm":533.3,"f":57.9},{"s":"P","nm":534.3,"f":62.5},{"s":"P","nm":535.4,"f":65.3},{"s":"P","nm":536.4,"f":67.2},{"s":"P","nm":537.4,"f":62.5},{"s":"P","nm":538.4,"f":60.7},{"s":"P","nm":539.4,"f":57.0},{"s":"P","nm":540.2,"f":54.2},{"s":"P","nm":541.1,"f":63.5},{"s":"P","nm":541.8,"f":70.8},{"s":"P","nm":542.8,"f":66.2},{"s":"P","nm":543.8,"f":69.0},{"s":"P","nm":544.8,"f":69.9},{"s":"P","nm":545.9,"f":65.3},{"s":"P","nm":546.9,"f":68.1},{"s":"P","nm":547.6,"f":62.5},{"s":"P","nm":548.6,"f":66.2},{"s":"P","nm":549.7,"f":72.7},{"s":"P","nm":550.7,"f":68.1},{"s":"P","nm":551.4,"f":74.5},{"s":"P","nm":552.4,"f":77.3},{"s":"P","nm":553.1,"f":74.5},{"s":"P","nm":553.7,"f":83.7},{"s":"P","nm":554.4,"f":89.3},{"s":"P","nm":555.1,"f":93.0},{"s":"P","nm":555.8,"f":87.4},{"s":"P","nm":556.5,"f":88.4},{"s":"P","nm":557.1,"f":84.7},{"s":"P","nm":557.8,"f":91.1},{"s":"P","nm":558.5,"f":76.4},{"s":"P","nm":559.2,"f":85.6},{"s":"P","nm":560.2,"f":88.4},{"s":"P","nm":560.9,"f":93.9},{"s":"P","nm":561.9,"f":92.1},{"s":"P","nm":562.7,"f":96.2},{"s":"P","nm":563.6,"f":93.0},{"s":"P","nm":564.0,"f":85.6},{"s":"P","nm":564.9,"f":91.1},{"s":"P","nm":565.9,"f":83.7},{"s":"P","nm":566.9,"f":85.6},{"s":"P","nm":568.0,"f":81.0},{"s":"P","nm":569.0,"f":77.3},{"s":"P","nm":569.7,"f":69.9},{"s":"P","nm":570.4,"f":62.5},{"s":"P","nm":571.0,"f":65.3},{"s":"P","nm":571.7,"f":69.0},{"s":"P","nm":572.4,"f":63.5},{"s":"P","nm":573.4,"f":60.7},{"s":"P","nm":574.4,"f":57.0},{"s":"P","nm":575.4,"f":55.2},{"s":"P","nm":576.5,"f":51.5},{"s":"P","nm":577.5,"f":46.9},{"s":"P","nm":578.3,"f":42.7},{"s":"P","nm":579.2,"f":46.9},{"s":"P","nm":580.2,"f":49.6},{"s":"P","nm":581.2,"f":48.7},{"s":"P","nm":582.2,"f":51.5},{"s":"P","nm":583.2,"f":49.6},{"s":"P","nm":584.3,"f":52.4},{"s":"P","nm":585.3,"f":50.6},{"s":"P","nm":586.3,"f":49.6},{"s":"P","nm":587.3,"f":48.7},{"s":"P","nm":588.0,"f":42.3},{"s":"P","nm":588.7,"f":35.9},{"s":"P","nm":589.3,"f":32.3},{"s":"P","nm":589.9,"f":41.4},{"s":"P","nm":590.8,"f":45.9},{"s":"P","nm":591.8,"f":44.1},{"s":"P","nm":592.8,"f":46.9},{"s":"P","nm":593.8,"f":45.0},{"s":"P","nm":594.8,"f":45.9},{"s":"P","nm":595.9,"f":44.1},{"s":"P","nm":596.9,"f":46.9},{"s":"P","nm":597.9,"f":45.0},{"s":"P","nm":598.9,"f":46.9},{"s":"P","nm":599.9,"f":44.1},{"s":"P","nm":600.9,"f":45.9},{"s":"P","nm":601.6,"f":40.4},{"s":"P","nm":602.3,"f":44.1},{"s":"P","nm":603.3,"f":49.6},{"s":"P","nm":604.3,"f":51.5},{"s":"P","nm":605.3,"f":54.2},{"s":"P","nm":606.2,"f":48.7},{"s":"P","nm":607.0,"f":55.2},{"s":"P","nm":608.1,"f":50.6},{"s":"P","nm":609.1,"f":54.2},{"s":"P","nm":610.1,"f":49.6},{"s":"P","nm":611.1,"f":53.3},{"s":"P","nm":612.1,"f":48.7},{"s":"P","nm":613.1,"f":52.4},{"s":"P","nm":614.2,"f":47.8},{"s":"P","nm":615.2,"f":51.5},{"s":"P","nm":616.2,"f":54.2},{"s":"P","nm":617.2,"f":59.8},{"s":"P","nm":618.2,"f":56.1},{"s":"P","nm":619.2,"f":61.6},{"s":"P","nm":620.3,"f":69.9},{"s":"P","nm":620.9,"f":65.3},{"s":"P","nm":621.9,"f":60.7},{"s":"P","nm":622.6,"f":65.3},{"s":"P","nm":623.7,"f":59.8},{"s":"P","nm":624.7,"f":62.5},{"s":"P","nm":625.7,"f":57.9},{"s":"P","nm":626.7,"f":61.6},{"s":"P","nm":627.7,"f":56.1},{"s":"P","nm":628.7,"f":60.7},{"s":"P","nm":629.8,"f":57.0},{"s":"P","nm":630.8,"f":59.8},{"s":"P","nm":631.9,"f":58.9},{"s":"P","nm":632.9,"f":61.6},{"s":"P","nm":633.9,"f":63.5},{"s":"P","nm":634.9,"f":69.0},{"s":"P","nm":635.6,"f":74.5},{"s":"P","nm":636.3,"f":70.8},{"s":"P","nm":637.3,"f":74.5},{"s":"P","nm":638.0,"f":81.9},{"s":"P","nm":638.6,"f":84.7},{"s":"P","nm":639.3,"f":80.1},{"s":"P","nm":640.0,"f":77.3},{"s":"P","nm":640.7,"f":83.7},{"s":"P","nm":641.5,"f":81.0},{"s":"P","nm":642.2,"f":85.6},{"s":"P","nm":643.1,"f":81.0},{"s":"P","nm":644.1,"f":85.6},{"s":"P","nm":644.9,"f":79.1},{"s":"P","nm":645.8,"f":77.3},{"s":"P","nm":646.6,"f":80.1},{"s":"P","nm":647.3,"f":78.2},{"s":"P","nm":648.1,"f":69.9},{"s":"P","nm":648.8,"f":74.5},{"s":"P","nm":649.5,"f":67.2},{"s":"P","nm":650.0,"f":61.6},{"s":"P","nm":650.7,"f":69.0},{"s":"P","nm":651.4,"f":77.3},{"s":"P","nm":652.2,"f":81.0},{"s":"P","nm":652.9,"f":78.2},{"s":"P","nm":653.7,"f":82.8},{"s":"P","nm":654.6,"f":80.1},{"s":"P","nm":655.3,"f":81.9},{"s":"P","nm":655.9,"f":74.5},{"s":"P","nm":656.3,"f":67.2},{"s":"P","nm":656.8,"f":74.5},{"s":"P","nm":657.6,"f":87.4},{"s":"P","nm":658.3,"f":93.0},{"s":"P","nm":659.0,"f":98.5},{"s":"P","nm":659.7,"f":96.7},{"s":"P","nm":660.3,"f":104.0},{"s":"P","nm":661.0,"f":107.7},{"s":"P","nm":661.7,"f":105.9},{"s":"P","nm":662.4,"f":114.2},{"s":"P","nm":663.1,"f":116.9},{"s":"P","nm":663.7,"f":118.8},{"s":"P","nm":664.4,"f":122.5},{"s":"P","nm":665.1,"f":127.1},{"s":"P","nm":665.8,"f":134.5},{"s":"P","nm":666.5,"f":130.8},{"s":"P","nm":667.1,"f":140.9},{"s":"P","nm":667.7,"f":123.4},{"s":"P","nm":668.1,"f":140.0},{"s":"P","nm":668.6,"f":153.8},{"s":"P","nm":669.2,"f":155.7},{"s":"P","nm":669.5,"f":140.9},{"s":"P","nm":670.0,"f":144.6}
]
},
"layer": [
{
"data": {"name": "lines"},
"mark": {"type": "rule", "strokeDash": [3, 2], "color": "#2a2a2a", "strokeWidth": 1},
"encoding": {
"x": {"field": "nm", "type": "quantitative",
"scale": {"domain": [424.75, 670.1], "nice": false, "zero": false},
"axis": {"title": "Wavelength (nm)", "values": [440, 460, 480, 500, 520, 540, 560, 580, 600, 620, 640, 660], "format": ".1f", "ticks": false, "domain": false, "labelFontSize": 12, "labelColor": "#444444", "labelPadding": 9, "titleFontSize": 12, "titleFontWeight": "normal", "titleColor": "#444444", "titlePadding": 9, "grid": true, "gridColor": "#d2d2d2", "gridDash": [2, 2], "gridWidth": 1}}
}
},
{
"data": {"name": "spec"},
"mark": {"type": "line", "strokeWidth": 1.3, "clip": true},
"encoding": {
"x": {"field": "nm", "type": "quantitative"},
"y": {"field": "f", "type": "quantitative",
"scale": {"domain": [23.7, 157], "nice": false, "zero": false},
"axis": {"title": null, "values": [40, 60, 80, 100, 120, 140], "ticks": false, "domain": false, "labelFontSize": 12, "labelColor": "#444444", "labelPadding": 6, "grid": true, "gridColor": "#d2d2d2", "gridDash": [2, 2], "gridWidth": 1}},
"color": {"field": "s", "type": "nominal", "scale": {"domain": ["R", "B", "P"], "range": ["#b23a2c", "#1e1ed6", "#8c1d8c"]}, "legend": null}
}
},
{
"data": {"name": "lines"},
"mark": {"type": "text", "angle": 270, "align": "left", "baseline": "middle", "fontSize": 12, "color": "#111111", "font": "Liberation Sans"},
"encoding": {
"x": {"field": "nm", "type": "quantitative"},
"y": {"field": "ly", "type": "quantitative"},
"text": {"field": "label"}
}
}
]
}
